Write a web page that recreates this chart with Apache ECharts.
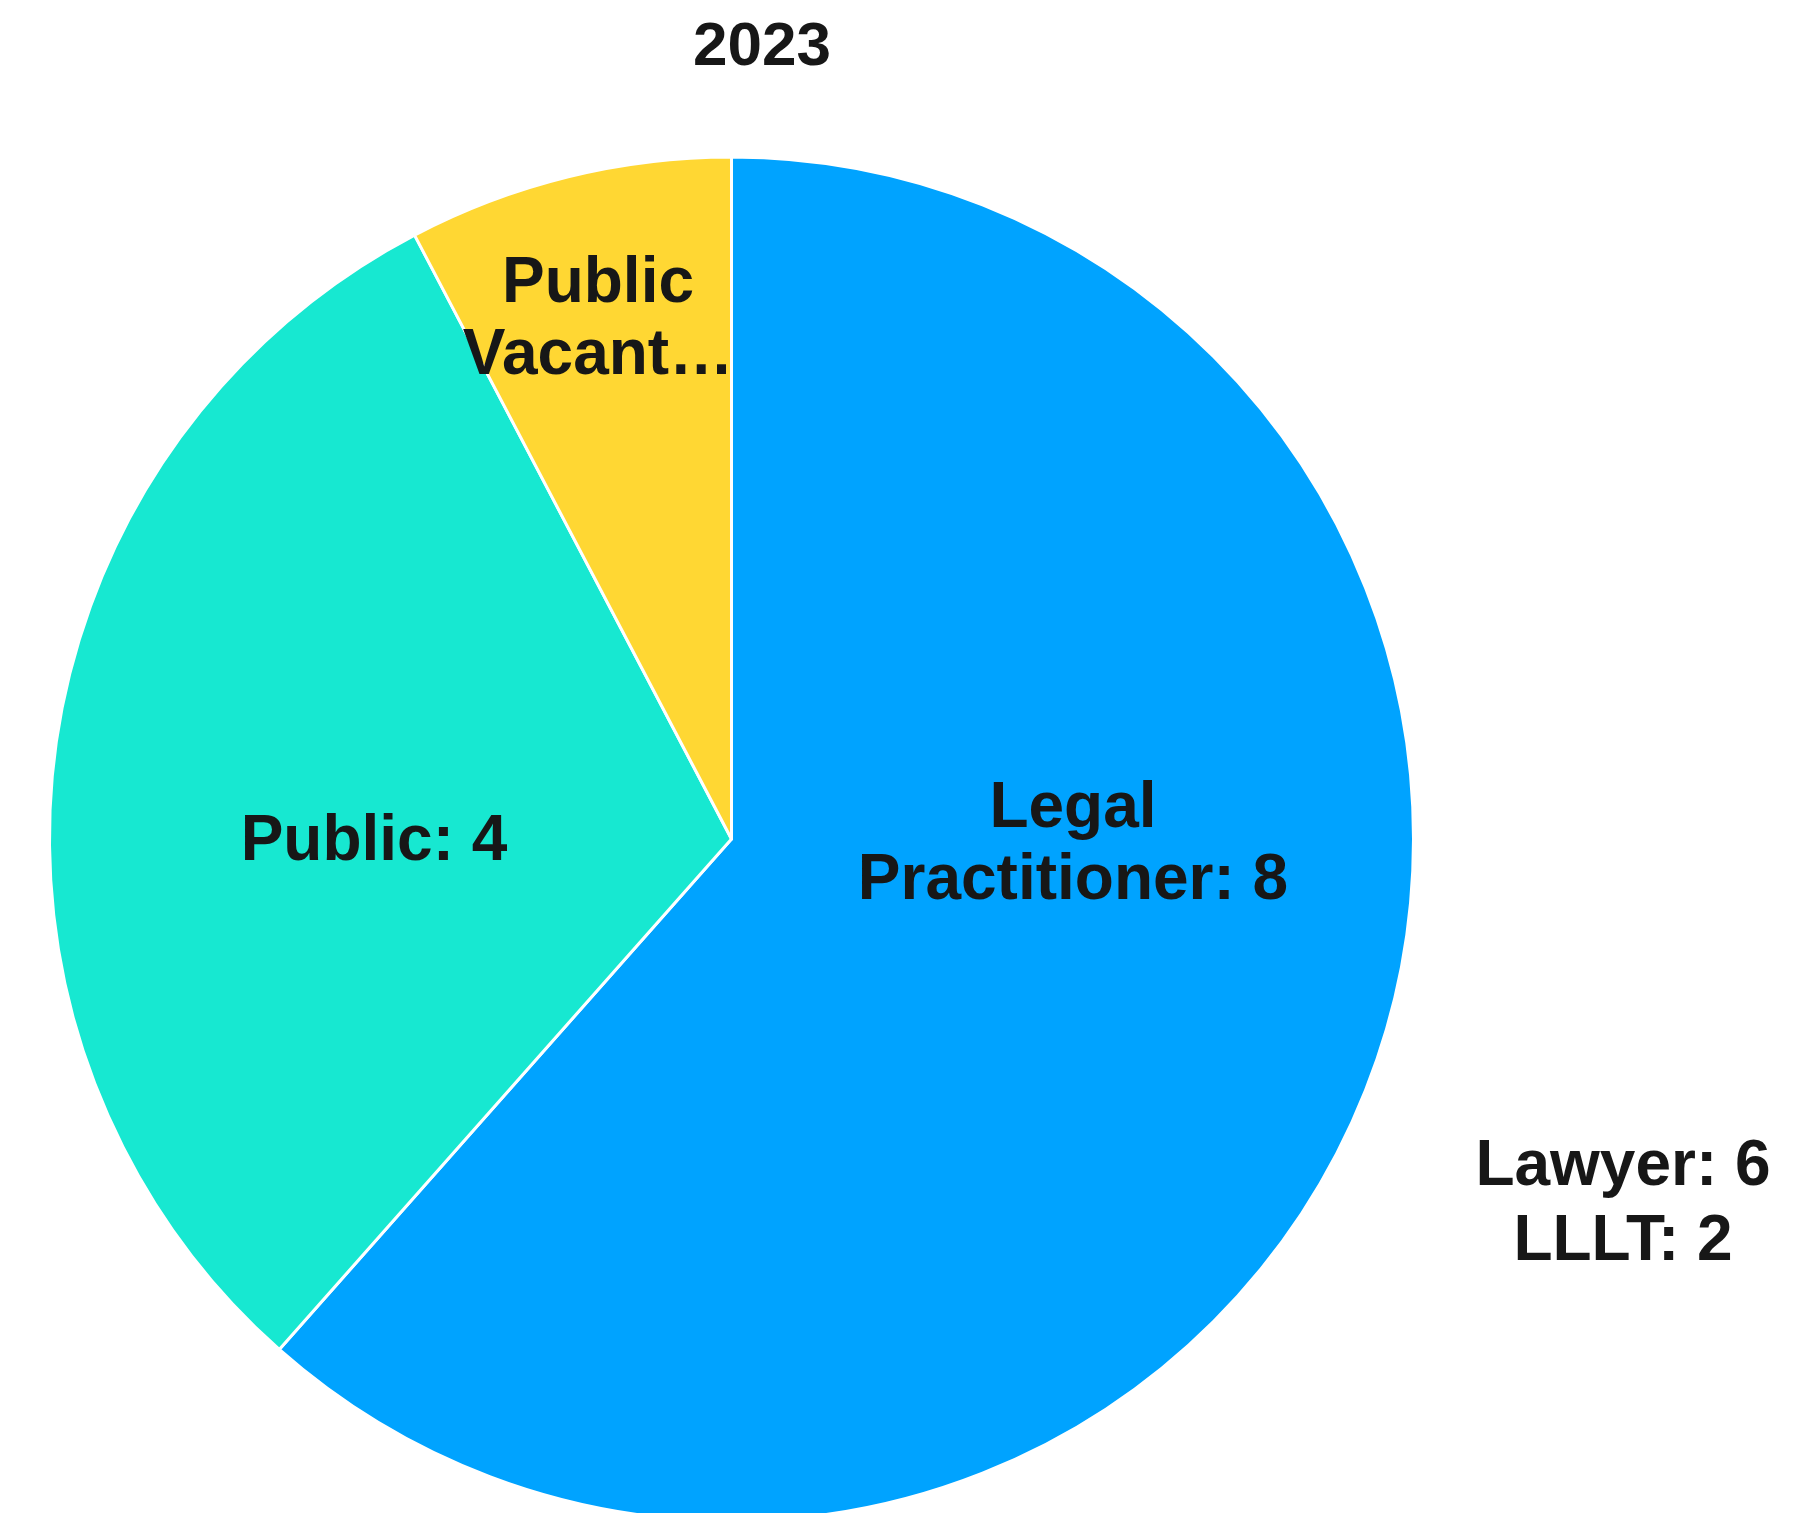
<!DOCTYPE html>
<html>
<head>
<meta charset="utf-8">
<script src="https://cdn.jsdelivr.net/npm/echarts@6/dist/echarts.min.js"></script>
<style>
  html, body { margin: 0; padding: 0; background: #fff; }
  #chart { width: 1799px; height: 1513px; }
</style>
</head>
<body>
<div id="chart"></div>
<script>
'use strict';
// slices, clockwise from 12 o'clock
const sliceNames = ['Legal Practitioner', 'Public', 'Public Vacant'];
const sliceValues = [8, 4, 1];
const sliceColors = ['#00a3ff', '#17e8d1', '#ffd733'];
// text shown in each slice (the yellow one is cut short in the original)
const sliceLabels = ['Legal\nPractitioner: 8', 'Public: 4', 'Public\nVacant\u2026'];
// where each slice label sits
const labelSpots = [[1073, 845], [374, 842], [598, 320]];

const breakdownText = 'Lawyer: 6\nLLLT: 2';

{
    let dom = document.getElementById('chart');
    let myChart = echarts.init(dom, null, { renderer: 'canvas' });
    const fontFamily = '"Liberation Sans", Arial, Helvetica, sans-serif';
    const ink = '#171717';

    let option = {
        animation: false,
        backgroundColor: '#ffffff',
        graphic: [{
            type: 'text',
            x: 762,
            y: 48,
            style: {
                text: '2023',
                fill: ink,
                font: 'bold 62px ' + fontFamily,
                textAlign: 'center',
                textVerticalAlign: 'middle'
            }
        }, {
            type: 'text',
            x: 1623,
            y: 1205,
            style: {
                text: breakdownText,
                fill: ink,
                font: 'bold 64px ' + fontFamily,
                lineHeight: 75,
                textAlign: 'center',
                textVerticalAlign: 'middle'
            }
        }],
        series: [{
            type: 'pie',
            center: [731.5, 839],
            radius: 682,
            startAngle: 90,
            clockwise: true,
            silent: true,
            itemStyle: {
                borderColor: '#ffffff',
                borderWidth: 3
            },
            label: {
                show: true,
                position: 'inside',
                color: ink,
                fontFamily: fontFamily,
                fontWeight: 'bold',
                fontSize: 64,
                lineHeight: 72,
                formatter: function (params) {
                    return sliceLabels[params.dataIndex];
                }
            },
            labelLine: { show: false },
            labelLayout: function (params) {
                const spot = labelSpots[params.dataIndex];
                return { x: spot[0], y: spot[1], align: 'center', verticalAlign: 'middle' };
            },
            data: sliceNames.map(function (name, i) {
                return { name: name, value: sliceValues[i], itemStyle: { color: sliceColors[i] } };
            })
        }]
    };

    myChart.setOption(option, true);
}
</script>
</body>
</html>
